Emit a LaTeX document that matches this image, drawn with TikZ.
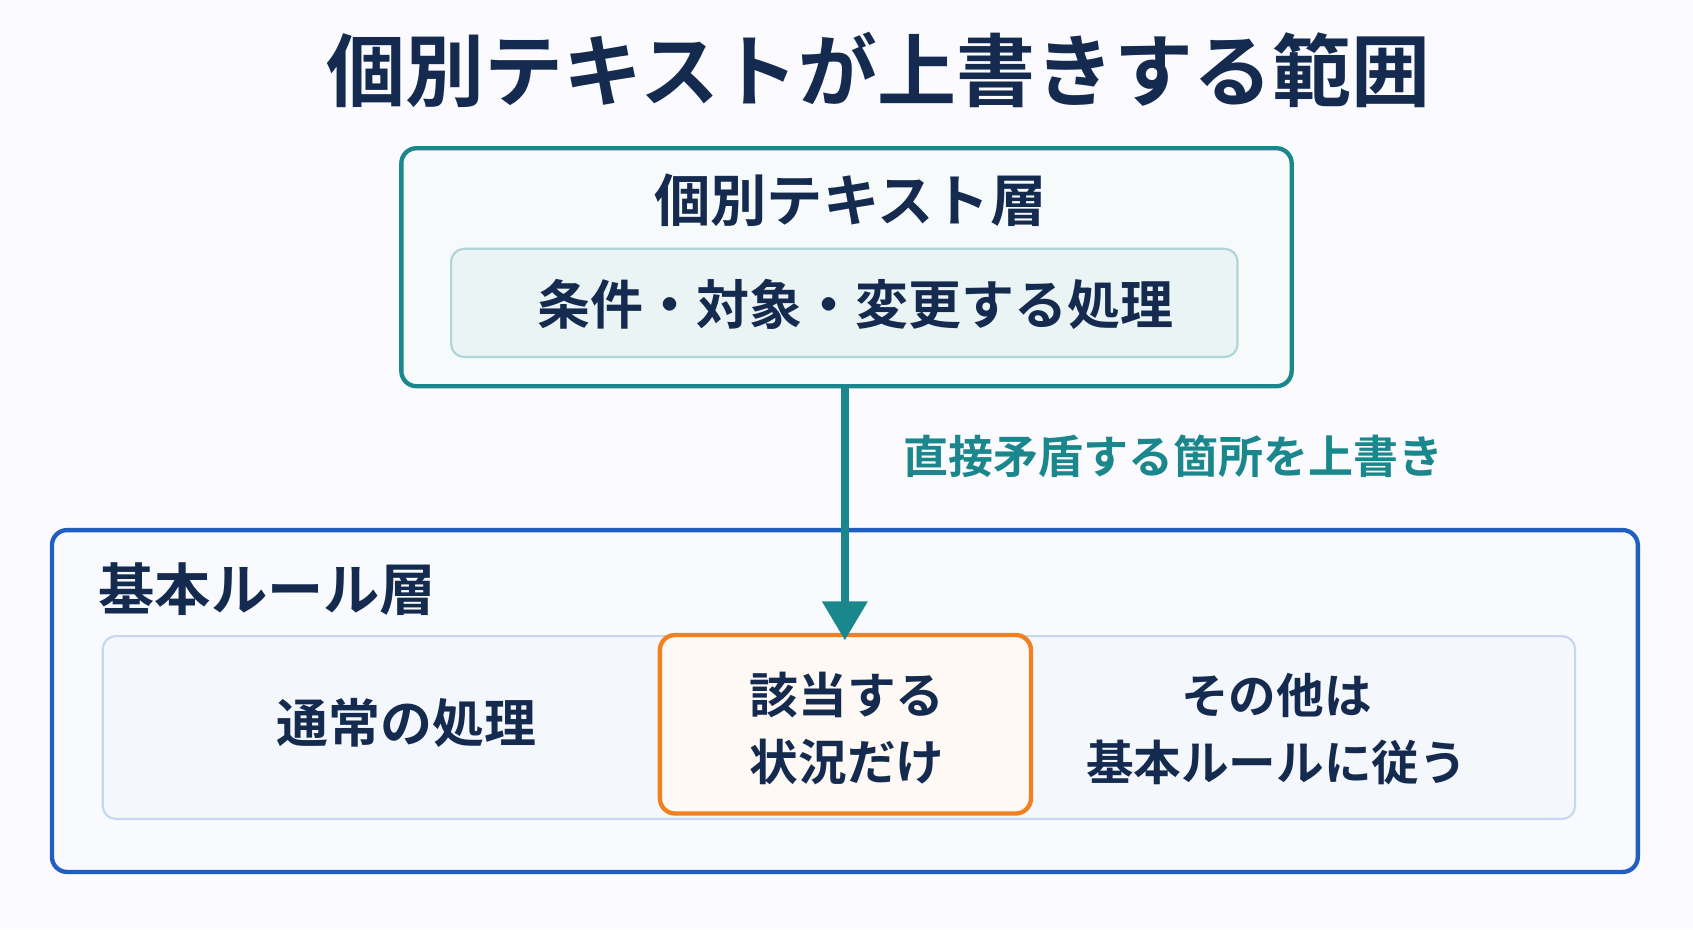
\documentclass[tikz,border=0pt]{standalone}
\usepackage{fontspec}
\setmainfont{Noto Sans CJK JP}[BoldFont={* Bold}]
\usetikzlibrary{arrows.meta}
\definecolor{navy}{HTML}{142A4E}
\definecolor{teal1}{HTML}{1A878C}
\definecolor{blue1}{HTML}{1F5FC4}
\definecolor{orng}{HTML}{F08020}
\tikzset{
 txt/.style={font=\bfseries, text=navy, align=center},
 box/.style={rounded corners=7pt, line width=2pt},
}
\begin{document}
\begin{tikzpicture}[x=0.5pt,y=-0.5pt]
\path[fill=white!98.5!blue] (0,0) rectangle (1565,859);
\node[txt, font=\fontsize{36.5}{44}\bfseries\selectfont] (title) at (812,65) {個別テキストが上書きする範囲};
\draw[box, draw=teal1, fill=white!96!teal1] (371,137) rectangle (1194,357);
\node[txt, font=\fontsize{26}{30}\bfseries\selectfont] (ttl) at (786,185) {個別テキスト層};
\draw[rounded corners=6pt, line width=1pt, draw=teal1!35, fill=teal1!9] (417,230) rectangle (1144,330);
\node[txt, font=\fontsize{24.5}{28}\bfseries\selectfont] (cond) at (791,281) {条件・対象・変更する処理};
\draw[box, draw=blue1, fill=blue1!3] (48,490) rectangle (1514,806);
\node[txt, font=\fontsize{26}{30}\bfseries\selectfont, anchor=west] (base) at (84,545) {基本ルール層};
\draw[rounded corners=6pt, line width=1pt, draw=blue1!25, fill=blue1!5] (95,588) rectangle (1456,757);
\draw[box, draw=orng, fill=orng!5] (610,587) rectangle (953,752);
\node[txt, font=\fontsize{24}{31}\bfseries\selectfont] (norm) at (376,668) {通常の処理};
\node[txt, font=\fontsize{22.5}{31}\bfseries\selectfont] (hit) at (783,673) {該当する\\状況だけ};
\node[txt, font=\fontsize{22}{31}\bfseries\selectfont] (oth) at (1180,674) {その他は\\基本ルールに従う};
\coordinate (a1) at (781,357);
\coordinate (a2) at (781,592);
\draw[teal1, line width=4pt, -{Triangle[length=18pt,width=20pt]}] (a1) -- (a2);
\node[font=\fontsize{20.8}{24}\bfseries\selectfont, text=teal1] (lab) at (1085,422) {直接矛盾する箇所を上書き};
\end{tikzpicture}
\end{document}
